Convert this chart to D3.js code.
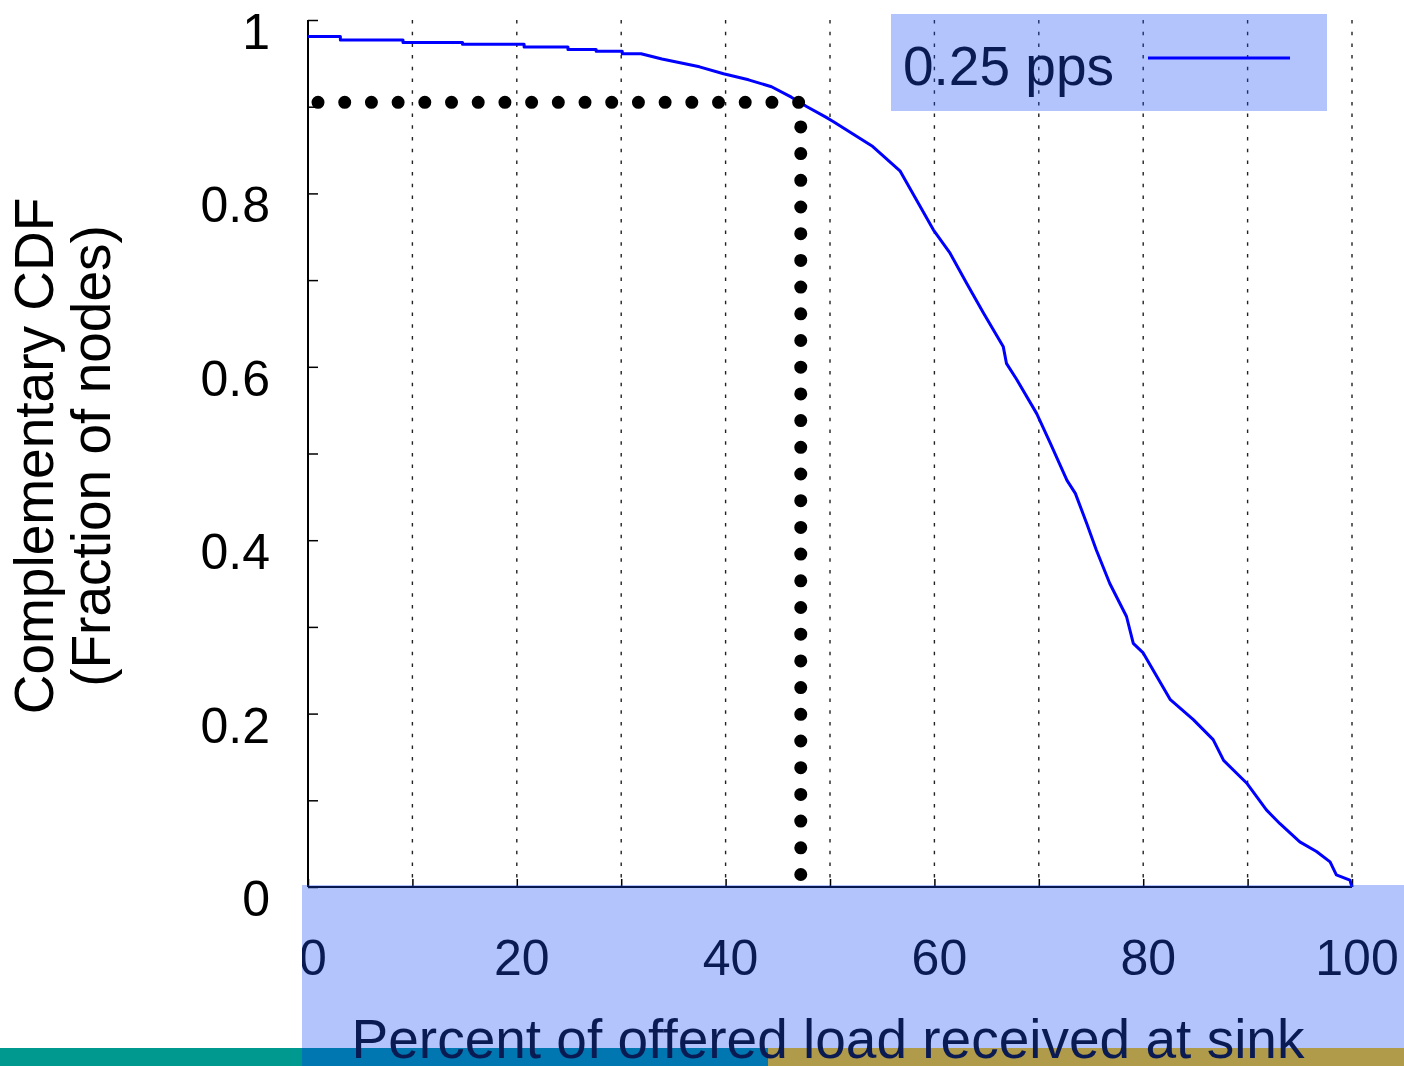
<!DOCTYPE html>
<html>
<head>
<meta charset="utf-8">
<script src="https://cdn.jsdelivr.net/npm/d3@7"></script>
<style>
  body { margin: 0; background: #fff; }
  svg { display: block; font-family: "Liberation Sans", Arial, sans-serif; }
</style>
</head>
<body>
<svg id="chart" width="1404" height="1066"></svg>
<script>
//Data - complementary CDF of percent of offered load received at sink
var loadPct = [0, 3.1, 3.1, 9.1, 9.1, 14.8, 14.8, 20.7, 20.7, 24.9, 24.9, 27.6, 27.6, 30.1, 30.1, 31.9,
  33.9, 37.5, 39.8, 42.2, 44.4, 46.3, 47.8, 49.6, 50.3, 54.1, 56.7, 59.9, 61.5, 63.1, 64.7, 66.6,
  66.9, 67.9, 69.8, 71.1, 72.7, 73.5, 74.6, 75.5, 76.8, 78.4, 79.05, 80.0, 82.6, 84.8, 86.7, 87.7,
  89.9, 91.8, 93.1, 95.0, 96.6, 97.9, 98.5, 99.8, 100];
var ccdf = [0.981, 0.981, 0.977, 0.977, 0.974, 0.974, 0.972, 0.972, 0.969, 0.969, 0.966, 0.966, 0.964, 0.964, 0.961, 0.961,
  0.955, 0.946, 0.938, 0.931, 0.923, 0.911, 0.900, 0.888, 0.883, 0.854, 0.826, 0.758, 0.731, 0.696, 0.662, 0.623,
  0.604, 0.585, 0.546, 0.512, 0.469, 0.454, 0.419, 0.389, 0.350, 0.312, 0.281, 0.270, 0.216, 0.193, 0.170, 0.146,
  0.120, 0.089, 0.073, 0.052, 0.041, 0.029, 0.014, 0.008, 0];

//Dotted guide: the 0.9 fraction / ~47% point
var guideX = [0.96, 47.2, 47.2];
var guideY = [0.905, 0.905, 0.012];

//Ticks and labels
var xTicks = d3.range(0, 101, 10);
var xLabels = [0, 20, 40, 60, 80, 100];
var yTicks = d3.range(0, 1.01, 0.1);
var yLabels = [0, 0.2, 0.4, 0.6, 0.8, 1];
var seriesName = "0.25 pps";
var xTitle = "Percent of offered load received at sink";
var yTitle = ["Complementary CDF", "(Fraction of nodes)"];

//Colors
var navy = "#0a1a52";
var overlay = "rgba(24,73,245,0.33)";

var svg = d3.select("#chart");

var x = d3.scaleLinear().domain([0, 100]).range([308, 1352]);
var y = d3.scaleLinear().domain([0, 1]).range([887, 20]);

//Grid - vertical dotted lines
svg.append("g").selectAll("line").data(xTicks.filter(function(d){return d > 0;})).enter().append("line")
  .attr("x1", function(d){return x(d);}).attr("x2", function(d){return x(d);})
  .attr("y1", y(1)).attr("y2", y(0))
  .attr("stroke", "#222").attr("stroke-width", 1.4).attr("stroke-dasharray", "3.5 8.2");

//Axes lines
var yAxis = d3.axisLeft(y).tickValues(yTicks).tickSize(-10).tickFormat("");
svg.append("g").attr("transform", "translate(" + x(0) + ",0)").call(yAxis)
  .call(function(g){ g.selectAll("line").attr("stroke", "#000").attr("stroke-width", 1.5);
    g.select(".domain").attr("d", "M0," + y(1) + "V" + y(0)).attr("stroke", "#000").attr("stroke-width", 2); });

var xAxis = d3.axisBottom(x).tickValues(xTicks).tickSize(-8).tickFormat("");
svg.append("g").attr("transform", "translate(0," + y(0) + ")").call(xAxis)
  .call(function(g){ g.selectAll("line").attr("stroke", "#000").attr("stroke-width", 1.5);
    g.select(".domain").attr("d", "M" + x(0) + ",0H" + x(100)).attr("stroke", "#000").attr("stroke-width", 2); });

//Y tick labels
svg.append("g").selectAll("text").data(yLabels).enter().append("text")
  .attr("x", 270).attr("y", function(d){return y(d) + 29;})
  .attr("text-anchor", "end").attr("font-size", 50).attr("fill", "#000")
  .text(d3.format("~g"));

//Curve
var line = d3.line().x(function(d){return x(d[0]);}).y(function(d){return y(d[1]);});
svg.append("path").datum(d3.zip(loadPct, ccdf))
  .attr("d", line).attr("fill", "none").attr("stroke", "#0000ff").attr("stroke-width", 3)
  .attr("stroke-linejoin", "round");

//Dotted guide
svg.append("path").datum(d3.zip(guideX, guideY))
  .attr("d", line).attr("fill", "none").attr("stroke", "#000").attr("stroke-width", 13)
  .attr("stroke-linecap", "round").attr("stroke-dasharray", "0 26.7");

//Y title (two lines, rotated)
svg.append("g").selectAll("text").data(yTitle).enter().append("text")
  .attr("transform", function(d, i){return "translate(" + (53 + i*57) + ",456) rotate(-90)";})
  .attr("text-anchor", "middle").attr("font-size", 55).attr("fill", "#000")
  .text(function(d){return d;});

//Bottom colour stripes
svg.append("rect").attr("x", 0).attr("y", 1048).attr("width", 302).attr("height", 18).attr("fill", "#00998f");
svg.append("rect").attr("x", 302).attr("y", 1048).attr("width", 466).attr("height", 18).attr("fill", "#0077b0");
svg.append("rect").attr("x", 768).attr("y", 1048).attr("width", 636).attr("height", 18).attr("fill", "#b09b4a");

//Highlight overlays
svg.append("rect").attr("x", 302).attr("y", 885).attr("width", 1102).attr("height", 163).attr("fill", overlay);
svg.append("rect").attr("x", 891).attr("y", 14).attr("width", 436).attr("height", 97).attr("fill", overlay);

//X tick labels (clipped to the highlight band)
svg.append("clipPath").attr("id", "bandClip").append("rect")
  .attr("x", 302).attr("y", 885).attr("width", 1102).attr("height", 181);
svg.append("g").attr("clip-path", "url(#bandClip)").selectAll("text").data(xLabels).enter().append("text")
  .attr("x", function(d){return x(d) + 5;}).attr("y", y(0) + 88)
  .attr("text-anchor", "middle").attr("font-size", 50).attr("fill", navy)
  .text(function(d){return d;});

//X title
svg.append("text").attr("x", 828).attr("y", 1058).attr("text-anchor", "middle")
  .attr("font-size", 55).attr("fill", navy).text(xTitle);

//Legend
svg.append("text").attr("x", 903).attr("y", 85).attr("font-size", 55).attr("fill", navy).text(seriesName);
svg.append("line").attr("x1", 1148).attr("x2", 1290).attr("y1", 58).attr("y2", 58)
  .attr("stroke", "#0000ff").attr("stroke-width", 3);
</script>
</body>
</html>
